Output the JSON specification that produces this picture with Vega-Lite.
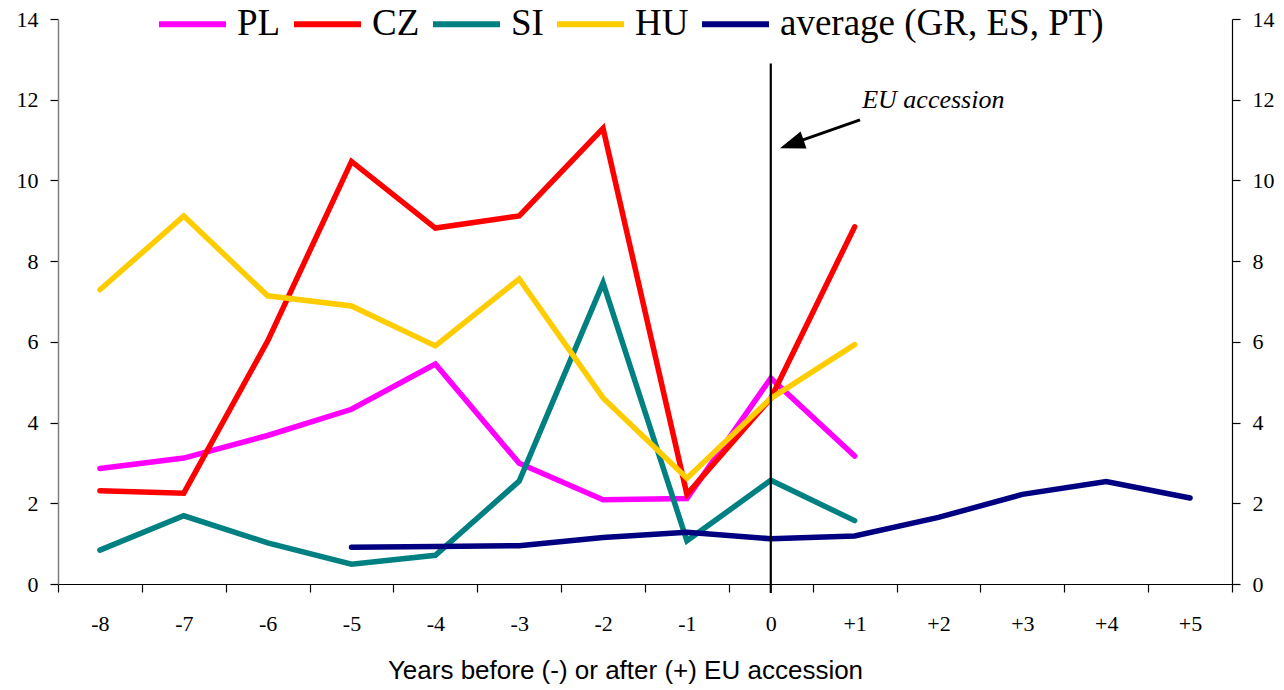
{
  "$schema": "https://vega.github.io/schema/vega-lite/v6.json",
  "width": 1174,
  "height": 565,
  "autosize": {"type": "none"},
  "padding": {"left": 58, "top": 19, "right": 52, "bottom": 106},
  "background": "white",
  "config": {
    "view": {"stroke": null},
    "axis": {
      "labelFont": "Liberation Serif", "labelFontSize": 22, "labelColor": "black",
      "tickSize": 8, "tickColor": "black", "tickWidth": 1.2, "domainColor": "black", "domainWidth": 1.2, "grid": false,
      "titleFont": "Liberation Sans", "titleFontSize": 26, "titleFontWeight": "normal", "titleColor": "black"
    },
    "axisLeft": {"domainColor": "#808080", "domainWidth": 1.5},
    "legend": {
      "labelFont": "Liberation Serif", "labelFontSize": 37, "labelColor": "black",
      "labelOffset": 8, "columnPadding": 1, "padding": 0, "labelLimit": 500
    }
  },
  "layer": [
    {
      "data": {"values": [
        {"year": "-8", "series": "PL", "value": 2.86},
        {"year": "-7", "series": "PL", "value": 3.12},
        {"year": "-6", "series": "PL", "value": 3.68},
        {"year": "-5", "series": "PL", "value": 4.33},
        {"year": "-4", "series": "PL", "value": 5.45},
        {"year": "-3", "series": "PL", "value": 2.99},
        {"year": "-2", "series": "PL", "value": 2.09},
        {"year": "-1", "series": "PL", "value": 2.12},
        {"year": "0", "series": "PL", "value": 5.1},
        {"year": "+1", "series": "PL", "value": 3.17},
        {"year": "-8", "series": "CZ", "value": 2.31},
        {"year": "-7", "series": "CZ", "value": 2.25},
        {"year": "-6", "series": "CZ", "value": 6.02},
        {"year": "-5", "series": "CZ", "value": 10.47},
        {"year": "-4", "series": "CZ", "value": 8.82},
        {"year": "-3", "series": "CZ", "value": 9.12},
        {"year": "-2", "series": "CZ", "value": 11.29},
        {"year": "-1", "series": "CZ", "value": 2.22},
        {"year": "0", "series": "CZ", "value": 4.6},
        {"year": "+1", "series": "CZ", "value": 8.85},
        {"year": "-8", "series": "SI", "value": 0.84},
        {"year": "-7", "series": "SI", "value": 1.69},
        {"year": "-6", "series": "SI", "value": 1.02},
        {"year": "-5", "series": "SI", "value": 0.49},
        {"year": "-4", "series": "SI", "value": 0.71},
        {"year": "-3", "series": "SI", "value": 2.55},
        {"year": "-2", "series": "SI", "value": 7.46},
        {"year": "-1", "series": "SI", "value": 1.07},
        {"year": "0", "series": "SI", "value": 2.57},
        {"year": "+1", "series": "SI", "value": 1.57},
        {"year": "-8", "series": "HU", "value": 7.29},
        {"year": "-7", "series": "HU", "value": 9.12},
        {"year": "-6", "series": "HU", "value": 7.14},
        {"year": "-5", "series": "HU", "value": 6.89},
        {"year": "-4", "series": "HU", "value": 5.9},
        {"year": "-3", "series": "HU", "value": 7.56},
        {"year": "-2", "series": "HU", "value": 4.61},
        {"year": "-1", "series": "HU", "value": 2.62},
        {"year": "0", "series": "HU", "value": 4.6},
        {"year": "+1", "series": "HU", "value": 5.93},
        {"year": "-5", "series": "average (GR, ES, PT)", "value": 0.91},
        {"year": "-4", "series": "average (GR, ES, PT)", "value": 0.93},
        {"year": "-3", "series": "average (GR, ES, PT)", "value": 0.95},
        {"year": "-2", "series": "average (GR, ES, PT)", "value": 1.15},
        {"year": "-1", "series": "average (GR, ES, PT)", "value": 1.28},
        {"year": "0", "series": "average (GR, ES, PT)", "value": 1.12},
        {"year": "+1", "series": "average (GR, ES, PT)", "value": 1.19},
        {"year": "+2", "series": "average (GR, ES, PT)", "value": 1.65},
        {"year": "+3", "series": "average (GR, ES, PT)", "value": 2.22},
        {"year": "+4", "series": "average (GR, ES, PT)", "value": 2.54},
        {"year": "+5", "series": "average (GR, ES, PT)", "value": 2.13}
      ]},
      "mark": {"type": "line", "strokeWidth": 5.5, "strokeCap": "round"},
      "encoding": {
        "x": {
          "field": "year", "type": "ordinal",
          "scale": {"type": "band", "domain": ["-8","-7","-6","-5","-4","-3","-2","-1","0","+1","+2","+3","+4","+5"], "paddingInner": 0, "paddingOuter": 0},
          "axis": {
            "title": "Years before (-) or after (+) EU accession",
            "titleX": 567,
            "tickBand": "extent",
            "tickSize": 8,
            "labelAngle": 0,
            "labelPadding": 21,
            "titlePadding": 23,
            "labelFont": "Liberation Serif", "labelFontSize": 22, "labelColor": "black",
            "titleFont": "Liberation Sans", "titleFontSize": 26, "titleColor": "black",
            "domainColor": "black", "tickColor": "black"
          }
        },
        "y": {
          "field": "value", "type": "quantitative",
          "scale": {"domain": [0, 14], "nice": false},
          "axis": {"orient": "left", "title": null, "values": [0,2,4,6,8,10,12,14], "format": "d",
            "tickSize": 8, "labelPadding": 12,
            "labelFont": "Liberation Serif", "labelFontSize": 22, "labelColor": "black",
            "domainColor": "#808080", "tickColor": "black"}
        },
        "color": {
          "field": "series", "type": "nominal",
          "scale": {"domain": ["PL", "CZ", "SI", "HU", "average (GR, ES, PT)"], "range": ["#FF00FF", "#FF0000", "#008080", "#FFCC00", "#000080"]},
          "legend": {
            "title": null, "orient": "none", "direction": "horizontal", "legendX": 98, "legendY": -31.5,
            "symbolType": "stroke", "symbolSize": 4489, "symbolStrokeWidth": 6
          }
        }
      }
    },
    {
      "layer": [
        {
          "data": {"values": [{"x": 0, "y": -0.22, "y2": 12.9}]},
          "mark": {"type": "rule", "color": "black", "strokeWidth": 2.2},
          "encoding": {
            "x": {"field": "x", "type": "quantitative", "scale": {"domain": [-8.5, 5.5], "nice": false, "zero": false}, "axis": null},
            "y": {"field": "y", "type": "quantitative", "scale": {"domain": [0, 14], "nice": false},
              "axis": {"orient": "right", "title": null, "values": [0,2,4,6,8,10,12,14], "format": "d",
                "tickSize": 8, "labelPadding": 12,
                "labelFont": "Liberation Serif", "labelFontSize": 22, "labelColor": "black",
                "domainColor": "black", "tickColor": "black"}},
            "y2": {"field": "y2"}
          }
        },
        {
          "data": {"values": [{"x": 1.064, "y": 11.5, "x2": 0.35, "y2": 10.98}]},
          "mark": {"type": "rule", "color": "black", "strokeWidth": 3},
          "encoding": {
            "x": {"field": "x", "type": "quantitative", "axis": null},
            "x2": {"field": "x2"},
            "y": {"field": "y", "type": "quantitative"},
            "y2": {"field": "y2"}
          }
        },
        {
          "data": {"values": [{"x": 0.25, "y": 10.9}]},
          "mark": {"type": "point", "shape": "M0,-1L-0.72,1L0.72,1Z", "size": 625, "angle": 251, "filled": true, "color": "black", "opacity": 1},
          "encoding": {
            "x": {"field": "x", "type": "quantitative", "axis": null},
            "y": {"field": "y", "type": "quantitative"}
          }
        },
        {
          "data": {"values": [{"x": 1.09, "y": 11.79, "label": "EU accession"}]},
          "mark": {"type": "text", "font": "Liberation Serif", "fontStyle": "italic", "fontSize": 26, "align": "left", "baseline": "alphabetic", "color": "black"},
          "encoding": {
            "x": {"field": "x", "type": "quantitative", "axis": null},
            "y": {"field": "y", "type": "quantitative"},
            "text": {"field": "label"}
          }
        }
      ]
    }
  ],
  "resolve": {"scale": {"x": "independent", "y": "independent"}, "axis": {"x": "independent", "y": "independent"}}
}
